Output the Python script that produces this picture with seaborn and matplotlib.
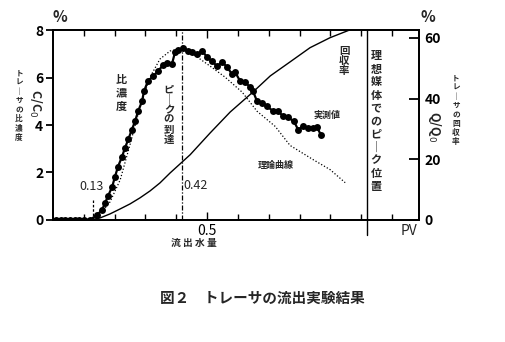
import numpy as np
import pandas as pd
import matplotlib
matplotlib.use("Agg")
import matplotlib.pyplot as plt
import seaborn as sns

# 実測値 (比濃度 C/C0, %)
meas_x = [0.010, 0.025, 0.040, 0.055, 0.070, 0.085, 0.100, 0.120, 0.143, 0.159,
          0.169, 0.179, 0.192, 0.201, 0.211, 0.224, 0.234, 0.244, 0.256, 0.266,
          0.276, 0.289, 0.295, 0.308, 0.325, 0.341, 0.357, 0.370, 0.386, 0.396,
          0.406, 0.422, 0.438, 0.451, 0.468, 0.484, 0.500, 0.516, 0.532, 0.549,
          0.565, 0.581, 0.591, 0.607, 0.623, 0.640, 0.649, 0.662, 0.679, 0.695,
          0.714, 0.731, 0.747, 0.763, 0.782, 0.795, 0.812, 0.828, 0.844, 0.857,
          0.870]
meas_c = [0.00, 0.00, 0.00, 0.00, 0.00, 0.00, 0.00, 0.00, 0.21, 0.42,
          0.72, 1.02, 1.40, 1.82, 2.25, 2.67, 3.05, 3.39, 3.81, 4.15,
          4.58, 5.00, 5.42, 5.85, 6.06, 6.27, 6.53, 6.61, 6.57, 7.08,
          7.16, 7.25, 7.12, 7.08, 6.99, 7.12, 6.86, 6.69, 6.48, 6.65,
          6.44, 6.14, 6.23, 5.85, 5.81, 5.59, 5.42, 5.00, 4.92, 4.79,
          4.58, 4.58, 4.36, 4.32, 4.15, 3.81, 3.94, 3.86, 3.86, 3.90,
          3.56]

# 理論曲線 (%)
theo_x = [0.088, 0.120, 0.153, 0.185, 0.218, 0.250, 0.282, 0.315, 0.347, 0.380,
          0.412, 0.445, 0.477, 0.510, 0.558, 0.614, 0.662, 0.721, 0.769, 0.844,
          0.899, 0.948]
theo_c = [0.00, 0.04, 0.25, 0.76, 1.69, 3.18, 4.75, 6.02, 6.78, 7.12,
          7.20, 7.08, 6.78, 6.48, 6.02, 5.38, 4.58, 3.94, 3.14, 2.54,
          2.12, 1.57]

# 回収率 Q/Q0 (%)
rec_x = [0.120, 0.153, 0.185, 0.218, 0.250, 0.282, 0.315, 0.347, 0.380, 0.419,
         0.445, 0.510, 0.575, 0.649, 0.705, 0.769, 0.834, 0.899, 0.964]
rec_q = [0.0, 0.66, 1.98, 3.63, 5.28, 7.26, 9.57, 12.2, 15.5, 19.1,
         21.5, 28.7, 35.6, 42.2, 47.5, 52.1, 56.8, 60.1, 62.7]

peak_arrival = 0.42
first_arrival = 0.13
ideal_peak = 1.02

left_ticks = [0, 2, 4, 6, 8]
right_ticks = [0, 20, 40, 60]

sns.set_style("white")
plt.rcParams["font.family"] = ["Noto Sans CJK JP", "DejaVu Sans"]

fig = plt.figure(figsize=(5.05, 3.42), dpi=100)
ax = fig.add_axes([0.105, 0.357, 0.725, 0.555])
ax2 = ax.twinx()

meas = pd.DataFrame({"x": meas_x, "c": meas_c})
theo = pd.DataFrame({"x": theo_x, "c": theo_c})
rec = pd.DataFrame({"x": rec_x, "q": rec_q})

sns.lineplot(data=theo, x="x", y="c", ax=ax, color="black", lw=0.9,
             linestyle=(0, (1, 1.6)), sort=False)
sns.lineplot(data=meas, x="x", y="c", ax=ax, color="black", lw=1.6,
             marker="o", markersize=5, markeredgewidth=0, sort=False)
sns.lineplot(data=rec, x="x", y="q", ax=ax2, color="black", lw=1.0, sort=False)

ax.set_xlim(0, 1.188)
ax.set_ylim(0, 8)
ax2.set_ylim(0, 62.6)

# 基準線
ax.axvline(peak_arrival, color="black", lw=0.9, linestyle=(0, (4, 1.5, 1, 1.5)))
ax.plot([first_arrival, first_arrival], [0, 0.85], color="black", lw=0.9,
        linestyle=(0, (2, 1.5)))
ax.axvline(ideal_peak, ymin=-0.08, ymax=1, color="black", lw=1.0, clip_on=False)

for a in (ax, ax2):
    for s in a.spines.values():
        s.set_color("black")
        s.set_linewidth(1.3)

ax.set_xticks([0.5])
ax.set_xticklabels(["0.5"])
ax.set_xticks(np.arange(0.1, 1.19, 0.1), minor=True)
ax.tick_params(axis="x", which="both", direction="in", top=True, bottom=True,
               length=4, width=1, labelsize=10, pad=3, colors="black")
ax.tick_params(axis="x", which="major", length=6)
ax.set_yticks(left_ticks)
ax.tick_params(axis="y", direction="out", length=5, width=1.3, labelsize=10,
               colors="black", pad=2)
ax2.set_yticks(right_ticks)
ax2.tick_params(axis="y", direction="in", length=7, width=1.3, labelsize=10,
                colors="black", pad=4)
ax.set_xlabel("")
ax.set_ylabel("")
ax2.set_ylabel("")
for lab in ax.get_yticklabels() + ax2.get_yticklabels():
    lab.set_fontweight("bold")


def vtext(x, y, s, size, **kw):
    fig.text(x / 505, 1 - y / 342, "\n".join(s), ha="center", va="center",
             fontsize=size, fontweight="bold", linespacing=1.0, **kw)


# 軸まわりの文字
fig.text(60 / 505, 1 - 17 / 342, "%", ha="center", va="center", fontsize=11,
         fontweight="bold")
fig.text(428 / 505, 1 - 17 / 342, "%", ha="center", va="center", fontsize=11,
         fontweight="bold")
fig.text(409 / 505, 1 - 231 / 342, "PV", ha="center", va="center", fontsize=10)
vtext(19, 105, "トレ｜サの比濃度", 5.5)
fig.text(35 / 505, 1 - 103 / 342, "C/C$_0$", ha="center", va="center",
         fontsize=9, rotation=-90, fontweight="bold")
fig.text(434 / 505, 1 - 127 / 342, "Q/Q$_0$", ha="center", va="center",
         fontsize=9, rotation=-90, fontweight="bold")
vtext(456, 110, "トレ｜サの回収率", 5.5)
fig.text(194 / 505, 1 - 243 / 342, "流 出 水 量", ha="center", va="center",
         fontsize=7, fontweight="bold")
fig.text(262 / 505, 1 - 298 / 342, "図２　トレーサの流出実験結果", ha="center",
         va="center", fontsize=10.5, fontweight="bold")

# グラフ内の注記
vtext(121, 93, "比濃度", 8)
vtext(169, 115, "ピ｜クの到達", 7.5)
vtext(344, 61, "回収率", 7.5)
vtext(376, 121, "理想媒体でのピ｜ク位置", 8)
fig.text(327 / 505, 1 - 115 / 342, "実測値", ha="center", va="center",
         fontsize=6.5, fontweight="bold")
fig.text(276 / 505, 1 - 165 / 342, "理論曲線", ha="center", va="center",
         fontsize=6.5, fontweight="bold")
fig.text(92 / 505, 1 - 186 / 342, "0.13", ha="center", va="center", fontsize=9)
fig.text(196 / 505, 1 - 185 / 342, "0.42", ha="center", va="center", fontsize=9)

fig.savefig("out.png", dpi=100, facecolor="white")
